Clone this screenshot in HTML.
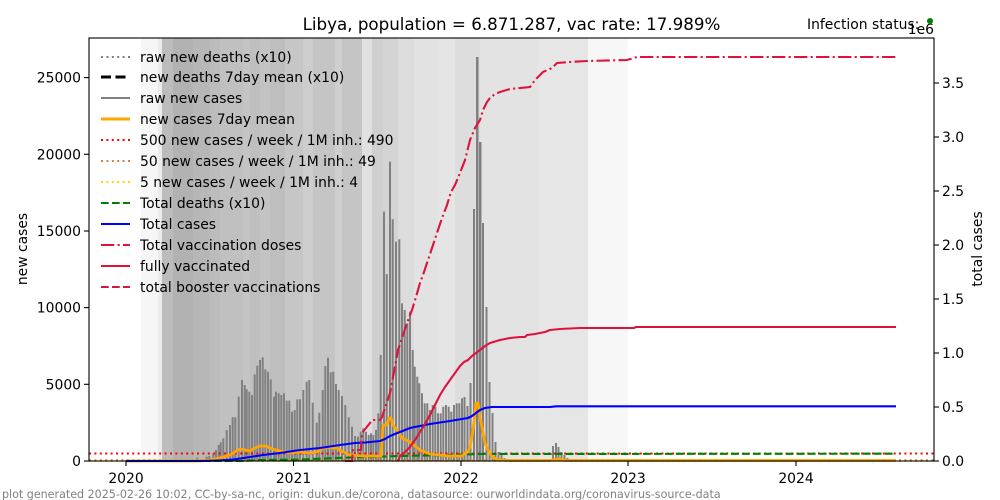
<!DOCTYPE html>
<html><head><meta charset="utf-8"><style>
html,body{margin:0;padding:0;background:#fff;}
svg{display:block;font-family:"DejaVu Sans","Liberation Sans",sans-serif;}
</style></head><body>
<svg width="1000" height="500" viewBox="0 0 1000 500" xmlns="http://www.w3.org/2000/svg">
<rect x="0" y="0" width="1000" height="500" fill="#fff"/>
<!-- background bands -->
<g shape-rendering="crispEdges">
<rect x="141" y="38" width="17" height="423" fill="#f6f6f6"/>
<rect x="158" y="38" width="4" height="423" fill="#ebebeb"/>
<rect x="162" y="38" width="11" height="423" fill="#bcbcbc"/>
<rect x="173" y="38" width="20" height="423" fill="#b2b2b2"/>
<rect x="193" y="38" width="17" height="423" fill="#b7b7b7"/>
<rect x="210" y="38" width="10" height="423" fill="#bcbcbc"/>
<rect x="220" y="38" width="23" height="423" fill="#c0c0c0"/>
<rect x="243" y="38" width="7" height="423" fill="#c4c4c4"/>
<rect x="250" y="38" width="10" height="423" fill="#bfbfbf"/>
<rect x="260" y="38" width="10" height="423" fill="#c3c3c3"/>
<rect x="270" y="38" width="15" height="423" fill="#bebebe"/>
<rect x="285" y="38" width="18" height="423" fill="#c6c6c6"/>
<rect x="303" y="38" width="10" height="423" fill="#cdcdcd"/>
<rect x="313" y="38" width="22" height="423" fill="#c5c5c5"/>
<rect x="335" y="38" width="7" height="423" fill="#cfcfcf"/>
<rect x="342" y="38" width="20" height="423" fill="#c5c5c5"/>
<rect x="362" y="38" width="10" height="423" fill="#e0e0e0"/>
<rect x="372" y="38" width="11" height="423" fill="#cfcfcf"/>
<rect x="383" y="38" width="15" height="423" fill="#d4d4d4"/>
<rect x="398" y="38" width="16" height="423" fill="#dcdcdc"/>
<rect x="414" y="38" width="23" height="423" fill="#e2e2e2"/>
<rect x="437" y="38" width="18" height="423" fill="#e5e5e5"/>
<rect x="455" y="38" width="25" height="423" fill="#dddddd"/>
<rect x="480" y="38" width="58" height="423" fill="#e3e3e3"/>
<rect x="538" y="38" width="50" height="423" fill="#e6e6e6"/>
<rect x="588" y="38" width="40" height="423" fill="#f7f7f7"/>
</g>
<!-- bars -->
<g fill="#808080">
<rect x="196.3" y="457.7" width="2" height="3.3"/>
<rect x="205.7" y="456.7" width="2" height="4.3"/>
<rect x="208.3" y="456" width="2" height="5"/>
<rect x="212.3" y="453.3" width="2" height="7.7"/>
<rect x="215" y="450" width="2" height="11"/>
<rect x="217.7" y="445" width="2" height="16"/>
<rect x="219.7" y="442.3" width="2" height="18.7"/>
<rect x="222.3" y="438.3" width="2" height="22.7"/>
<rect x="225.7" y="430" width="2" height="31"/>
<rect x="229" y="425" width="2" height="36"/>
<rect x="231.7" y="417.3" width="2" height="43.7"/>
<rect x="234.3" y="417.3" width="2" height="43.7"/>
<rect x="237.7" y="396.7" width="2" height="64.3"/>
<rect x="241" y="380" width="2" height="81"/>
<rect x="243.7" y="385" width="2" height="76"/>
<rect x="245.7" y="389.3" width="2" height="71.7"/>
<rect x="248.3" y="391.7" width="2" height="69.3"/>
<rect x="251" y="395" width="2" height="66"/>
<rect x="253.7" y="374.3" width="2" height="86.7"/>
<rect x="256.3" y="365.7" width="2" height="95.3"/>
<rect x="259" y="360" width="2" height="101"/>
<rect x="261.7" y="357.3" width="2" height="103.7"/>
<rect x="264.3" y="369.3" width="2" height="91.7"/>
<rect x="267" y="371.7" width="2" height="89.3"/>
<rect x="269.7" y="379.3" width="2" height="81.7"/>
<rect x="273" y="396.7" width="2" height="64.3"/>
<rect x="275" y="391.7" width="2" height="69.3"/>
<rect x="277.7" y="393.3" width="2" height="67.7"/>
<rect x="280.3" y="395" width="2" height="66"/>
<rect x="283" y="393.3" width="2" height="67.7"/>
<rect x="285.7" y="400.7" width="2" height="60.3"/>
<rect x="288.3" y="400.7" width="2" height="60.3"/>
<rect x="291" y="411.7" width="2" height="49.3"/>
<rect x="293.7" y="410" width="2" height="51"/>
<rect x="296.3" y="399.3" width="2" height="61.7"/>
<rect x="299" y="399.3" width="2" height="61.7"/>
<rect x="302.3" y="390" width="2" height="71"/>
<rect x="305.7" y="381.7" width="2" height="79.3"/>
<rect x="308.3" y="380" width="2" height="81"/>
<rect x="311.7" y="402.7" width="2" height="58.3"/>
<rect x="315.7" y="422.7" width="2" height="38.3"/>
<rect x="318.3" y="412.7" width="2" height="48.3"/>
<rect x="321.7" y="390" width="2" height="71"/>
<rect x="324.3" y="366" width="2" height="95"/>
<rect x="327" y="357.7" width="2" height="103.3"/>
<rect x="329.7" y="372.3" width="2" height="88.7"/>
<rect x="332.3" y="371.7" width="2" height="89.3"/>
<rect x="335" y="384" width="2" height="77"/>
<rect x="337.7" y="390" width="2" height="71"/>
<rect x="341" y="396" width="2" height="65"/>
<rect x="344.3" y="405" width="2" height="56"/>
<rect x="347.7" y="417.3" width="2" height="43.7"/>
<rect x="351" y="426.7" width="2" height="34.3"/>
<rect x="354" y="436" width="2" height="25"/>
<rect x="357" y="436.7" width="2" height="24.3"/>
<rect x="359.7" y="431.7" width="2" height="29.3"/>
<rect x="362.3" y="428.3" width="2" height="32.7"/>
<rect x="365" y="431.7" width="2" height="29.3"/>
<rect x="367.7" y="435" width="2" height="26"/>
<rect x="370" y="433.3" width="2" height="27.7"/>
<rect x="372.3" y="435" width="2" height="26"/>
<rect x="375" y="430" width="2" height="31"/>
<rect x="377.3" y="413.3" width="2" height="47.7"/>
<rect x="379.7" y="355" width="2" height="106"/>
<rect x="383" y="211.7" width="2" height="249.3"/>
<rect x="385.7" y="274" width="2" height="187"/>
<rect x="389" y="161.7" width="2" height="299.3"/>
<rect x="391.7" y="219.3" width="2" height="241.7"/>
<rect x="395" y="241.7" width="2" height="219.3"/>
<rect x="398.3" y="239.3" width="2" height="221.7"/>
<rect x="401" y="303.3" width="2" height="157.7"/>
<rect x="403.7" y="310" width="2" height="151"/>
<rect x="406.3" y="323.3" width="2" height="137.7"/>
<rect x="409" y="311.7" width="2" height="149.3"/>
<rect x="411.7" y="350" width="2" height="111"/>
<rect x="413.7" y="366.7" width="2" height="94.3"/>
<rect x="416.3" y="376.7" width="2" height="84.3"/>
<rect x="418.3" y="383.3" width="2" height="77.7"/>
<rect x="421" y="393.3" width="2" height="67.7"/>
<rect x="423.7" y="403.3" width="2" height="57.7"/>
<rect x="426.3" y="403.3" width="2" height="57.7"/>
<rect x="429" y="410" width="2" height="51"/>
<rect x="431.7" y="405" width="2" height="56"/>
<rect x="434.3" y="406.7" width="2" height="54.3"/>
<rect x="437" y="413.3" width="2" height="47.7"/>
<rect x="439.7" y="413.3" width="2" height="47.7"/>
<rect x="442.3" y="406.7" width="2" height="54.3"/>
<rect x="445" y="405" width="2" height="56"/>
<rect x="447.7" y="406.7" width="2" height="54.3"/>
<rect x="450.3" y="411.7" width="2" height="49.3"/>
<rect x="453" y="405" width="2" height="56"/>
<rect x="455.7" y="403.3" width="2" height="57.7"/>
<rect x="458.3" y="403.3" width="2" height="57.7"/>
<rect x="461" y="398.3" width="2" height="62.7"/>
<rect x="463.5" y="397" width="2" height="64"/>
<rect x="466.5" y="406" width="2" height="55"/>
<rect x="469.5" y="383" width="2" height="78"/>
<rect x="473" y="209" width="2" height="252"/>
<rect x="476" y="57" width="2.5" height="404"/>
<rect x="479" y="142" width="2.5" height="319"/>
<rect x="482" y="223" width="2" height="238"/>
<rect x="485.5" y="307" width="2" height="154"/>
<rect x="488.5" y="382" width="2" height="79"/>
<rect x="491.5" y="413" width="2" height="48"/>
<rect x="494.5" y="442" width="2" height="19"/>
<rect x="497.5" y="452" width="2" height="9"/>
<rect x="500.5" y="455" width="2" height="6"/>
<rect x="503.5" y="458" width="2" height="3"/>
<rect x="552" y="446" width="2" height="15"/>
<rect x="555" y="443" width="2" height="18"/>
<rect x="557.5" y="447" width="2" height="14"/>
<rect x="560.5" y="452" width="2" height="9"/>
<rect x="563.5" y="455" width="2" height="6"/>
<rect x="566.5" y="458" width="2" height="3"/>
</g>
<!-- threshold lines -->
<line x1="89" y1="461" x2="934" y2="461" stroke="#ffd700" stroke-width="2" stroke-dasharray="2,3.4"/>
<line x1="89" y1="460.2" x2="934" y2="460.2" stroke="#cd853f" stroke-width="2" stroke-dasharray="2,3.4"/>
<line x1="89" y1="453.5" x2="934" y2="453.5" stroke="#ff0000" stroke-width="2" stroke-dasharray="2,3.4"/>
<!-- total deaths green dashed -->
<polyline fill="none" stroke="#008000" stroke-width="2.1" stroke-dasharray="7.7,3.3" points="126,461 240,461 260,460 300,459.5 350,457.5 400,456 450,455 480,454 896,453.7"/>
<!-- orange 7day mean -->
<polyline fill="none" stroke="#ffa500" stroke-width="2.8" stroke-linejoin="round" points="126,461 200,461 210,460 215,459 220,458 230,455 235,452 240,449 245,450 250,451 255,448 260,446 265,446 268,447 272,449 280,451 290,453 300,452 310,453 317,452 322,449 327,447 332,448 337,448 343,452 350,455 363,456 381,456 383,425 387,425 389,418 391,418 393,425 397,430 402,438 410,442 420,450 430,454 450,456 462,456 465,453 468,452 470,447 472,436 474,423 475,412 476,403 478,403 479,410 480,417 482,427 484,438 485,443 488,450 492,457 499,460 510,460.5 550,460.5 555,459.5 560,459 565,460.5 896,460.5"/>
<!-- blue total cases -->
<polyline fill="none" stroke="#0000ff" stroke-width="2.1" stroke-linejoin="round" points="126,461 200,461 210,460.8 220,460.4 233,459.6 250,457 263,455 280,453 300,450 320,448 340,445 355,443 365,442.5 380,441 385,439 390,436 395,434 400,432 410,428 420,426 430,424 450,421 462,419 468,418 472,416 476,413 480,410 485,408 492,407 550,407 556,406.3 896,406.3"/>
<!-- fully vaccinated -->
<polyline fill="none" stroke="#dc143c" stroke-width="2.1" stroke-linejoin="round" points="398,461 400,456 405,452 410,447 415,440 420,432 425,424 430,415 435,405 440,395 445,387 450,380 455,373 460,366 464,362 468,360 472,356 476,353 480,350 485,346 490,343 500,340 510,338 520,337 525,337 527,335 535,334 540,333 545,332 550,330 560,329 580,328 634,328 636,327 896,327"/>
<!-- total doses dash-dot -->
<polyline fill="none" stroke="#dc143c" stroke-width="2.1" stroke-dasharray="13.3,3.3,2.1,3.3" points="345,461 352,461 353,450 361,450 362,433 366,428 370,423 372,420 380,420 382,417 386,405 390,393 394,372 398,350 403,335 407,323 412,310 416,297 420,283 424,272 428,260 433,245 438,230 442,218 447,205 451,192 455,185 460,173 465,160 470,140 475,128 480,120 483,110 487,102 490,98 495,94 500,92 510,89 530,87 535,80 540,75 543,72 552,68 557,63 570,62 587,61 627,60 637,57 896,57"/>
<!-- axes frame -->
<rect x="89" y="38" width="845" height="423" fill="none" stroke="#000" stroke-width="1.1"/>
<!-- x ticks -->
<g stroke="#000" stroke-width="1.1">
<line x1="126" y1="461" x2="126" y2="466"/>
<line x1="293.5" y1="461" x2="293.5" y2="466"/>
<line x1="461" y1="461" x2="461" y2="466"/>
<line x1="628" y1="461" x2="628" y2="466"/>
<line x1="796" y1="461" x2="796" y2="466"/>
<line x1="84" y1="461" x2="89" y2="461"/>
<line x1="84" y1="384.3" x2="89" y2="384.3"/>
<line x1="84" y1="307.6" x2="89" y2="307.6"/>
<line x1="84" y1="231" x2="89" y2="231"/>
<line x1="84" y1="154.3" x2="89" y2="154.3"/>
<line x1="84" y1="77.6" x2="89" y2="77.6"/>
<line x1="934" y1="461" x2="939" y2="461"/>
<line x1="934" y1="407" x2="939" y2="407"/>
<line x1="934" y1="353" x2="939" y2="353"/>
<line x1="934" y1="299" x2="939" y2="299"/>
<line x1="934" y1="245" x2="939" y2="245"/>
<line x1="934" y1="191" x2="939" y2="191"/>
<line x1="934" y1="137" x2="939" y2="137"/>
<line x1="934" y1="83" x2="939" y2="83"/>
</g>
<g font-size="13.9" fill="#000">
<g text-anchor="middle">
<text x="126" y="483">2020</text>
<text x="293.5" y="483">2021</text>
<text x="461" y="483">2022</text>
<text x="628" y="483">2023</text>
<text x="796" y="483">2024</text>
</g>
<g text-anchor="end">
<text x="81" y="466">0</text>
<text x="81" y="389.3">5000</text>
<text x="81" y="312.6">10000</text>
<text x="81" y="236">15000</text>
<text x="81" y="159.3">20000</text>
<text x="81" y="82.6">25000</text>
<text x="934" y="34">1e6</text>
</g>
<text x="942" y="466">0.0</text>
<text x="942" y="412">0.5</text>
<text x="942" y="358">1.0</text>
<text x="942" y="304">1.5</text>
<text x="942" y="250">2.0</text>
<text x="942" y="196">2.5</text>
<text x="942" y="142">3.0</text>
<text x="942" y="88">3.5</text>
<text transform="translate(27,249) rotate(-90)" text-anchor="middle">new cases</text>
<text transform="translate(982,249) rotate(-90)" text-anchor="middle">total cases</text>
<text x="807" y="29">Infection status:</text>
</g>
<circle cx="930" cy="21" r="3" fill="#008000"/>
<text x="511.5" y="30" font-size="16.7" text-anchor="middle" fill="#000">Libya, population = 6.871.287, vac rate: 17.989%</text>
<text x="2" y="498" font-size="11.1" fill="#808080">plot generated 2025-02-26 10:02, CC-by-sa-nc, origin: dukun.de/corona, datasource: ourworldindata.org/coronavirus-source-data</text>
<!-- legend -->
<g fill="none">
<line x1="101" y1="57" x2="130" y2="57" stroke="#808080" stroke-width="2" stroke-dasharray="2,3.4"/>
<line x1="101" y1="77" x2="130" y2="77" stroke="#000" stroke-width="3" stroke-dasharray="10,4.5"/>
<line x1="101" y1="98" x2="130" y2="98" stroke="#808080" stroke-width="2.1"/>
<line x1="101" y1="119" x2="130" y2="119" stroke="#ffa500" stroke-width="3"/>
<line x1="101" y1="140" x2="130" y2="140" stroke="#ff0000" stroke-width="2" stroke-dasharray="2,3.4"/>
<line x1="101" y1="161" x2="130" y2="161" stroke="#cd853f" stroke-width="2" stroke-dasharray="2,3.4"/>
<line x1="101" y1="182" x2="130" y2="182" stroke="#ffd700" stroke-width="2" stroke-dasharray="2,3.4"/>
<line x1="101" y1="203" x2="130" y2="203" stroke="#008000" stroke-width="2.1" stroke-dasharray="7.7,3.3"/>
<line x1="101" y1="224" x2="130" y2="224" stroke="#0000ff" stroke-width="2.1"/>
<line x1="101" y1="245" x2="130" y2="245" stroke="#dc143c" stroke-width="2.1" stroke-dasharray="13.3,3.3,2.1,3.3"/>
<line x1="101" y1="266" x2="130" y2="266" stroke="#dc143c" stroke-width="2.1"/>
<line x1="101" y1="287" x2="130" y2="287" stroke="#dc143c" stroke-width="2.1" stroke-dasharray="7.7,3.3"/>
</g>
<g font-size="13.9" fill="#000">
<text x="140" y="62">raw new deaths (x10)</text>
<text x="140" y="82">new deaths 7day mean (x10)</text>
<text x="140" y="103">raw new cases</text>
<text x="140" y="124">new cases 7day mean</text>
<text x="140" y="145">500 new cases / week / 1M inh.: 490</text>
<text x="140" y="166">50 new cases / week / 1M inh.: 49</text>
<text x="140" y="187">5 new cases / week / 1M inh.: 4</text>
<text x="140" y="208">Total deaths (x10)</text>
<text x="140" y="229">Total cases</text>
<text x="140" y="250">Total vaccination doses</text>
<text x="140" y="271">fully vaccinated</text>
<text x="140" y="292">total booster vaccinations</text>
</g>
</svg>
</body></html>
